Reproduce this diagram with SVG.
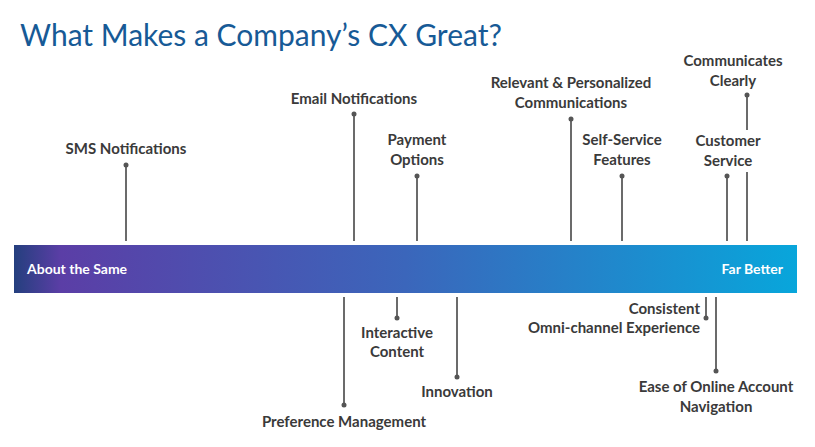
<svg xmlns="http://www.w3.org/2000/svg" width="815" height="447" viewBox="0 0 815 447">
<defs>
<linearGradient id="barGrad" x1="0" y1="0" x2="1" y2="0">
<stop offset="0" stop-color="#243f7e"/>
<stop offset="0.06" stop-color="#5b3ea6"/>
<stop offset="0.5" stop-color="#3b66bb"/>
<stop offset="1" stop-color="#08a6db"/>
</linearGradient>
<style>
.title{font-family:Lato,"Open Sans",sans-serif;font-size:30px;fill:#175a96}
.lbl{font-family:Lato,"Open Sans",sans-serif;font-size:15px;font-weight:bold;fill:#3a3a3a;text-anchor:middle}
.bar{font-family:Lato,"Open Sans",sans-serif;font-size:14px;font-weight:bold;fill:#ffffff}
.ln{stroke:#6b6b6b;stroke-width:2;fill:none}
.dot{fill:#555555}
</style>
</defs>
<rect width="815" height="447" fill="#ffffff"/>
<text class="title" x="20" y="46">What Makes a Company’s CX Great?</text>
<g id="scale">
<rect x="14" y="245" width="783" height="48" fill="url(#barGrad)"/>
<text class="bar" x="27" y="274">About the Same</text>
<text class="bar" x="783" y="274" text-anchor="end">Far Better</text>
</g>
<g id="connectors">
<line class="ln" x1="126" y1="165" x2="126" y2="241"/>
<line class="ln" x1="354" y1="114" x2="354" y2="241"/>
<line class="ln" x1="417" y1="176" x2="417" y2="241"/>
<line class="ln" x1="571" y1="119" x2="571" y2="241"/>
<line class="ln" x1="622" y1="176" x2="622" y2="241"/>
<line class="ln" x1="727" y1="176" x2="727" y2="241"/>
<line class="ln" x1="747" y1="95" x2="747" y2="130"/>
<line class="ln" x1="747" y1="172" x2="747" y2="241"/>
<line class="ln" x1="344" y1="297" x2="344" y2="405"/>
<line class="ln" x1="397" y1="297" x2="397" y2="318"/>
<line class="ln" x1="457" y1="297" x2="457" y2="377"/>
<line class="ln" x1="706" y1="297" x2="706" y2="318"/>
<line class="ln" x1="716" y1="297" x2="716" y2="371"/>
<circle class="dot" cx="126" cy="165" r="2.5"/>
<circle class="dot" cx="354" cy="114" r="2.5"/>
<circle class="dot" cx="417" cy="176" r="2.5"/>
<circle class="dot" cx="571" cy="119" r="2.5"/>
<circle class="dot" cx="622" cy="176" r="2.5"/>
<circle class="dot" cx="727" cy="176" r="2.5"/>
<circle class="dot" cx="747" cy="95" r="2.5"/>
<circle class="dot" cx="344" cy="405" r="2.5"/>
<circle class="dot" cx="397" cy="318" r="2.5"/>
<circle class="dot" cx="457" cy="377" r="2.5"/>
<circle class="dot" cx="706" cy="318" r="2.5"/>
<circle class="dot" cx="716" cy="371" r="2.5"/>
</g>
<g id="sms"><text class="lbl" x="126" y="154">SMS Notifications</text></g>
<g id="email"><text class="lbl" x="354" y="104">Email Notifications</text></g>
<g id="payment"><text class="lbl" x="417" y="145">Payment</text><text class="lbl" x="417" y="165">Options</text></g>
<g id="relevant"><text class="lbl" x="571" y="88">Relevant &amp; Personalized</text><text class="lbl" x="571" y="108">Communications</text></g>
<g id="selfservice"><text class="lbl" x="622" y="145">Self-Service</text><text class="lbl" x="622" y="165">Features</text></g>
<g id="customer"><text class="lbl" x="728" y="146">Customer</text><text class="lbl" x="728" y="166">Service</text></g>
<g id="communicates"><text class="lbl" x="733" y="66">Communicates</text><text class="lbl" x="733" y="86">Clearly</text></g>
<g id="preference"><text class="lbl" x="344" y="427">Preference Management</text></g>
<g id="interactive"><text class="lbl" x="397" y="338">Interactive</text><text class="lbl" x="397" y="357">Content</text></g>
<g id="innovation"><text class="lbl" x="457" y="397">Innovation</text></g>
<g id="consistent"><text class="lbl" x="700" y="314" style="text-anchor:end">Consistent</text><text class="lbl" x="700" y="333" style="text-anchor:end">Omni-channel Experience</text></g>
<g id="ease"><text class="lbl" x="716" y="392">Ease of Online Account</text><text class="lbl" x="716" y="412">Navigation</text></g>
</svg>
